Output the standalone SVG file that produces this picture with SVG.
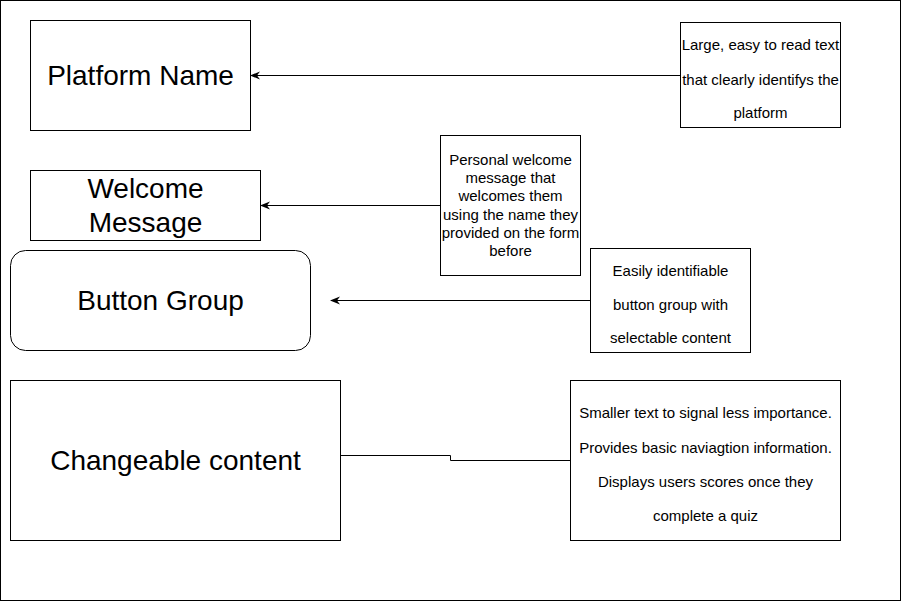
<svg xmlns="http://www.w3.org/2000/svg" width="901" height="601" viewBox="0 0 901 601">
<defs>
<style>
.box{fill:#fff;stroke:#000;stroke-width:1}
.big{font-family:"Liberation Sans",Arial,sans-serif;font-size:28px;fill:#000;text-anchor:middle}
.small{font-family:"Liberation Sans",Arial,sans-serif;font-size:15px;fill:#000;text-anchor:middle}
.conn{fill:none;stroke:#000;stroke-width:1}
</style>
<marker id="arr" viewBox="0 0 10 10" refX="9" refY="5" markerWidth="10" markerHeight="10" markerUnits="userSpaceOnUse" orient="auto">
<path d="M0,1 L10,5 L0,9 L3,5 Z" fill="#000"/>
</marker>
</defs>
<rect x="0.5" y="0.5" width="900" height="600" fill="#fff" stroke="#000"/>
<g id="platform-name">
<rect class="box" x="30.5" y="20.5" width="220" height="110"/>
<text class="big" x="140.5" y="85">Platform Name</text>
</g>
<g id="welcome-message">
<rect class="box" x="30.5" y="170.5" width="230" height="70"/>
<text class="big" x="145.5" y="198">Welcome</text>
<text class="big" x="145.5" y="232">Message</text>
</g>
<g id="button-group">
<rect class="box" x="10.5" y="250.5" width="300" height="100" rx="15"/>
<text class="big" x="160.5" y="310">Button Group</text>
</g>
<g id="changeable-content">
<rect class="box" x="10.5" y="380.5" width="330" height="160"/>
<text class="big" x="175.5" y="470">Changeable content</text>
</g>
<g id="note-platform">
<rect class="box" x="680.5" y="22.5" width="160" height="105"/>
<text class="small" x="760.5" y="50">Large, easy to read text</text>
<text class="small" x="760.5" y="85">that clearly identifys the</text>
<text class="small" x="760.5" y="118">platform</text>
</g>
<g id="note-welcome">
<rect class="box" x="440.5" y="135.5" width="140" height="140"/>
<text class="small" x="510.5" y="165">Personal welcome</text>
<text class="small" x="510.5" y="183">message that</text>
<text class="small" x="510.5" y="201">welcomes them</text>
<text class="small" x="510.5" y="220">using the name they</text>
<text class="small" x="510.5" y="238">provided on the form</text>
<text class="small" x="510.5" y="256">before</text>
</g>
<g id="note-buttons">
<rect class="box" x="590.5" y="248.5" width="160" height="104"/>
<text class="small" x="670.5" y="276">Easily identifiable</text>
<text class="small" x="670.5" y="310">button group with</text>
<text class="small" x="670.5" y="343">selectable content</text>
</g>
<g id="note-content">
<rect class="box" x="570.5" y="380.5" width="270" height="160"/>
<text class="small" x="705.5" y="418">Smaller text to signal less importance.</text>
<text class="small" x="705.5" y="453">Provides basic naviagtion information.</text>
<text class="small" x="705.5" y="487">Displays users scores once they</text>
<text class="small" x="705.5" y="521">complete a quiz</text>
</g>
<g id="connectors">
<path class="conn" d="M680.5,75.5 L251,75.5" marker-end="url(#arr)"/>
<path class="conn" d="M440.5,205.5 L261,205.5" marker-end="url(#arr)"/>
<path class="conn" d="M590.5,300.5 L331,300.5" marker-end="url(#arr)"/>
<path class="conn" d="M340.5,455.5 L450.5,455.5 L450.5,460.5 L570.5,460.5"/>
</g>
</svg>
